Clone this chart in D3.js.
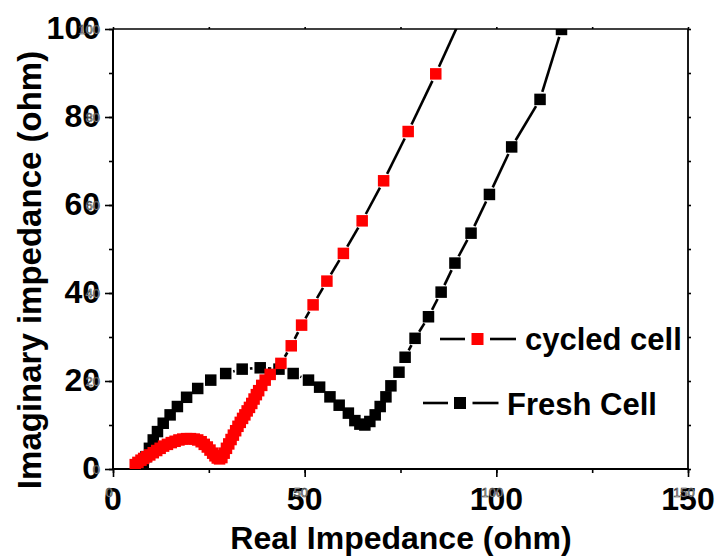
<!DOCTYPE html>
<html>
<head>
<meta charset="utf-8">
<script src="https://cdn.jsdelivr.net/npm/d3@7"></script>
<style>
  body { margin: 0; background: #fff; }
  text { font-family: "Liberation Sans", Arial, sans-serif; }
</style>
</head>
<body>
<script>
// tick labels
const xTicks = [0, 50, 100, 150]
const yTicks = [0, 20, 40, 60, 80, 100]

// fresh cell (black)
const freshX = [7.6, 7.9, 8.6, 9.5, 10.5, 11.6, 13.1, 14.9, 16.8, 19.2, 22.1, 25.5, 29.4, 33.7, 38.4, 43.3, 47.0, 51.0, 53.9, 56.6, 59.0, 61.4, 63.1, 64.4, 65.7, 67.0, 68.4, 69.7, 71.2, 72.5, 74.6, 76.2, 78.8, 82.3, 85.6, 89.2, 93.4, 98.2, 104.0, 111.4, 117.0]
const freshY = [0.0, 0.9, 2.8, 4.7, 6.6, 8.5, 10.4, 12.3, 14.2, 16.3, 18.3, 20.2, 21.7, 22.7, 23.0, 22.7, 21.7, 20.2, 18.6, 16.4, 14.5, 12.7, 11.0, 10.2, 10.0, 10.8, 12.3, 14.2, 16.4, 18.9, 22.0, 25.4, 29.7, 34.6, 40.2, 46.8, 53.6, 62.4, 73.2, 84.0, 99.9]

// cycled cell (red)
const cycledX = [5.8, 6.5, 7.3, 8.0, 8.8, 9.6, 10.5, 11.4, 12.3, 13.2, 14.2, 15.2, 16.2, 17.2, 18.2, 19.2, 20.2, 21.2, 22.1, 23.0, 23.8, 24.6, 25.3, 26.0, 26.6, 27.2, 27.8, 28.4, 29.0, 29.6, 30.2, 30.8, 31.4, 32.0, 32.6, 33.2, 33.8, 34.4, 35.0, 35.6, 36.2, 36.8, 37.4, 38.0, 38.8, 39.7, 41.0, 43.8, 46.5, 49.2, 52.2, 55.8, 60.1, 65.0, 70.6, 77.0, 84.2, 91.6]
const cycledY = [1.0, 1.5, 2.0, 2.4, 2.8, 3.2, 3.7, 4.2, 4.7, 5.2, 5.6, 6.0, 6.3, 6.6, 6.8, 6.9, 6.9, 6.8, 6.6, 6.2, 5.6, 5.0, 4.3, 3.6, 3.0, 2.5, 2.3, 2.6, 3.6, 4.7, 5.7, 6.7, 7.7, 8.7, 9.7, 10.6, 11.5, 12.3, 13.2, 14.0, 14.9, 15.9, 16.9, 17.8, 19.0, 20.2, 21.5, 24.0, 28.0, 32.7, 37.3, 42.7, 49.0, 56.4, 65.5, 76.7, 89.8, 104.0]

const seriesNames = ['cycled cell', 'Fresh Cell']

const W = 719, H = 558
const pLeft = 113, pRight = 688, pTop = 29, pBottom = 469
const msize = 11.5

let svg = d3.select('body').append('svg')
    .attr('width', W)
    .attr('height', H)

let xScale = d3.scaleLinear().domain([0, 150]).range([pLeft, pRight])
let yScale = d3.scaleLinear().domain([0, 100]).range([pBottom, pTop])

svg.append('defs').append('clipPath').attr('id', 'clip')
  .append('rect')
    .attr('x', pLeft).attr('y', pTop)
    .attr('width', pRight - pLeft).attr('height', pBottom - pTop)

// minor ticks (outward)
svg.append('g')
    .attr('transform', `translate(0,${pBottom})`)
    .call(d3.axisBottom(xScale).tickValues(d3.range(0, 151, 25)).tickSize(4).tickFormat(''))
    .call(g => g.select('.domain').remove())
svg.append('g')
    .attr('transform', `translate(${pLeft},0)`)
    .call(d3.axisLeft(yScale).tickValues(d3.range(0, 101, 10)).tickSize(4).tickFormat(''))
    .call(g => g.select('.domain').remove())
// major ticks
svg.append('g')
    .attr('transform', `translate(0,${pBottom})`)
    .call(d3.axisBottom(xScale).tickValues(xTicks).tickSize(8).tickFormat(''))
    .call(g => g.select('.domain').remove())
svg.append('g')
    .attr('transform', `translate(${pLeft},0)`)
    .call(d3.axisLeft(yScale).tickValues(yTicks).tickSize(8).tickFormat(''))
    .call(g => g.select('.domain').remove())
// top and right small ticks
svg.append('g')
    .attr('transform', `translate(0,${pTop})`)
    .call(d3.axisTop(xScale).tickValues(d3.range(0, 151, 25)).tickSize(2).tickFormat(''))
    .call(g => g.select('.domain').remove())
svg.append('g')
    .attr('transform', `translate(${pRight},0)`)
    .call(d3.axisRight(yScale).tickValues(d3.range(0, 101, 10)).tickSize(3).tickFormat(''))
    .call(g => g.select('.domain').remove())
svg.selectAll('.tick line').attr('stroke', '#000').attr('stroke-width', 1.6)

// frame
svg.append('line').attr('x1', pLeft).attr('x2', pRight).attr('y1', pTop).attr('y2', pTop)
    .attr('stroke', '#000').attr('stroke-width', 1.6)
svg.append('line').attr('x1', pRight).attr('x2', pRight).attr('y1', pTop).attr('y2', pBottom)
    .attr('stroke', '#000').attr('stroke-width', 1.8)
svg.append('line').attr('x1', pLeft).attr('x2', pLeft).attr('y1', pTop).attr('y2', pBottom + 1)
    .attr('stroke', '#000').attr('stroke-width', 2)
svg.append('line').attr('x1', pLeft - 1).attr('x2', pRight + 1).attr('y1', pBottom).attr('y2', pBottom)
    .attr('stroke', '#000').attr('stroke-width', 2)

// tick labels: bold large ones with small faint ones overlapping
svg.append('g').selectAll('text').data(xTicks).enter().append('text')
    .attr('x', d => xScale(d)).attr('y', 510)
    .attr('text-anchor', 'middle')
    .style('font-size', '32px').style('font-weight', 'bold')
    .text(d => d)
svg.append('g').selectAll('text').data(xTicks).enter().append('text')
    .attr('x', d => xScale(d) - 4).attr('y', 497)
    .attr('text-anchor', 'middle')
    .style('font-size', '13px').attr('fill', '#fff').attr('stroke', '#222').attr('stroke-width', 0.6)
    .text(d => d)
svg.append('g').selectAll('text').data(yTicks).enter().append('text')
    .attr('x', 100).attr('y', d => yScale(d) + 10)
    .attr('text-anchor', 'end')
    .style('font-size', '32px').style('font-weight', 'bold')
    .text(d => d)
svg.append('g').selectAll('text').data(yTicks).enter().append('text')
    .attr('x', 100).attr('y', d => yScale(d) + 5)
    .attr('text-anchor', 'end')
    .style('font-size', '13px').attr('fill', '#fff').attr('stroke', '#222').attr('stroke-width', 0.6)
    .text(d => d)

// axis titles
svg.append('text')
    .attr('x', 401).attr('y', 549)
    .attr('text-anchor', 'middle')
    .style('font-size', '32px').style('font-weight', 'bold')
    .text('Real Impedance (ohm)')
svg.append('text')
    .attr('transform', 'translate(41,270) rotate(-90)')
    .attr('text-anchor', 'middle')
    .style('font-size', '33px').style('font-weight', 'bold')
    .text('Imaginary impedance (ohm)')

// draw one series: black connecting segments with small gaps, then square markers
function drawSeries(xs, ys, color) {
    let pts = xs.map((x, i) => [xScale(x), yScale(ys[i])])
    let segs = []
    let gap = msize / 2 + 2
    for (let i = 0; i < pts.length - 1; i++) {
        let [x1, y1] = pts[i], [x2, y2] = pts[i + 1]
        let len = Math.hypot(x2 - x1, y2 - y1)
        if (len <= 2 * gap + 1) continue
        let ux = (x2 - x1) / len, uy = (y2 - y1) / len
        segs.push([x1 + ux * gap, y1 + uy * gap, x2 - ux * gap, y2 - uy * gap])
    }
    let g = svg.append('g').attr('clip-path', 'url(#clip)')
    g.selectAll('line').data(segs).enter().append('line')
        .attr('x1', d => d[0]).attr('y1', d => d[1])
        .attr('x2', d => d[2]).attr('y2', d => d[3])
        .attr('stroke', '#000').attr('stroke-width', 2.6)
    g.selectAll('rect').data(pts).enter().append('rect')
        .attr('x', d => d[0] - msize / 2).attr('y', d => d[1] - msize / 2)
        .attr('width', msize).attr('height', msize)
        .attr('fill', color)
}

drawSeries(freshX, freshY, '#000')
drawSeries(cycledX, cycledY, '#ff0000')

// legend
const legend = [
    { name: seriesNames[0], color: '#ff0000', x0: 440, mx: 477.5, y: 339, tx: 525, ty: 350 },
    { name: seriesNames[1], color: '#000', x0: 423, mx: 460, y: 403, tx: 507, ty: 415 }
]
let lg = svg.append('g')
legend.forEach(d => {
    lg.append('line').attr('x1', d.x0).attr('x2', d.x0 + 25).attr('y1', d.y).attr('y2', d.y)
        .attr('stroke', '#000').attr('stroke-width', 2.6)
    lg.append('line').attr('x1', d.mx + 12.5).attr('x2', d.mx + 38.5).attr('y1', d.y).attr('y2', d.y)
        .attr('stroke', '#000').attr('stroke-width', 2.6)
    lg.append('rect').attr('x', d.mx - 6).attr('y', d.y - 6).attr('width', 12).attr('height', 12)
        .attr('fill', d.color)
    lg.append('text').attr('x', d.tx).attr('y', d.ty)
        .style('font-size', '31px').style('font-weight', 'bold')
        .text(d.name)
})
</script>
</body>
</html>
